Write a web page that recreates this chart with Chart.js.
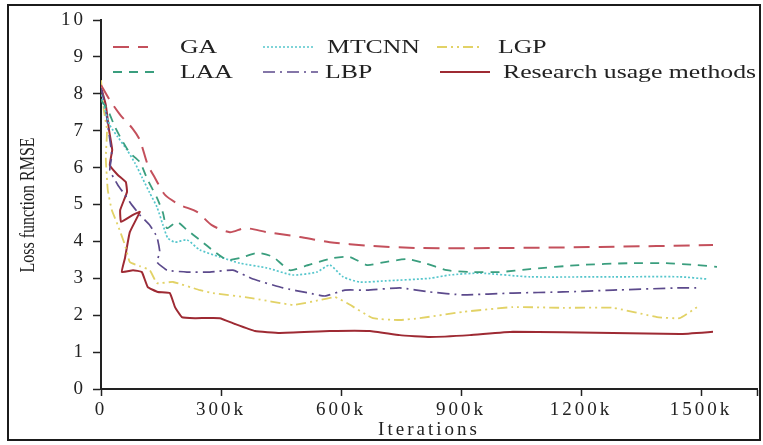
<!DOCTYPE html>
<html>
<head>
<meta charset="utf-8">
<script src="https://cdn.jsdelivr.net/npm/chart.js@4.4.1/dist/chart.umd.min.js"></script>
<style>
  html, body { margin: 0; padding: 0; background: #fff; }
  #wrap { position: relative; width: 763px; height: 445px; }
  #wrap canvas { position: absolute; left: 0; top: 0; }
  #frame { position: absolute; left: 7px; top: 4px; width: 754px; height: 437px; box-sizing: border-box; border: 2px solid #1b1b1b; pointer-events: none; }
</style>
</head>
<body>
<div id="wrap">
  <canvas id="chart" width="763" height="445"></canvas>
  <div id="frame"></div>
</div>
<script>
// ---- Data (iterations in thousands, loss RMSE)
const xTicks = [0, 300, 600, 900, 1200, 1500];
const xEnd = 1640;

const gaIter = [0, 22, 48, 78, 97, 117, 135, 160, 197, 240, 277, 322, 360, 415, 497, 572, 672, 797, 997, 1247, 1530];
const gaLoss = [8.24, 7.83, 7.43, 7.07, 6.75, 6.07, 5.72, 5.26, 4.99, 4.8, 4.44, 4.25, 4.36, 4.25, 4.12, 3.98, 3.88, 3.82, 3.82, 3.85, 3.9];

const laaIter = [0, 17, 35, 52, 72, 97, 117, 140, 155, 165, 190, 215, 247, 285, 315, 347, 392, 430, 472, 510, 580, 622, 665, 710, 765, 810, 865, 922, 997, 1072, 1197, 1322, 1410, 1490, 1540];
const laaLoss = [7.83, 7.56, 7.1, 6.75, 6.4, 6.15, 5.66, 5.18, 4.77, 4.36, 4.53, 4.31, 4.04, 3.71, 3.5, 3.55, 3.69, 3.58, 3.22, 3.33, 3.55, 3.58, 3.36, 3.44, 3.52, 3.41, 3.22, 3.17, 3.17, 3.25, 3.36, 3.41, 3.41, 3.36, 3.31];

const mtcnnIter = [0, 10, 22, 42, 65, 85, 102, 122, 140, 155, 167, 185, 215, 247, 297, 347, 415, 480, 540, 572, 605, 647, 710, 822, 872, 947, 1072, 1280, 1447, 1515];
const mtcnnLoss = [7.97, 7.56, 7.15, 6.83, 6.48, 6.12, 5.75, 5.31, 4.93, 4.44, 4.09, 3.98, 4.04, 3.77, 3.58, 3.41, 3.28, 3.09, 3.17, 3.36, 3.04, 2.9, 2.93, 3.0, 3.09, 3.14, 3.04, 3.04, 3.04, 2.98];

const lbpIter = [0, 10, 17, 27, 22, 42, 60, 77, 97, 122, 140, 147, 140, 165, 215, 272, 330, 380, 455, 520, 560, 610, 665, 747, 822, 905, 1030, 1155, 1280, 1447, 1497];
const lbpLoss = [8.16, 7.7, 7.15, 6.34, 5.93, 5.53, 5.26, 4.99, 4.72, 4.44, 4.12, 3.71, 3.44, 3.22, 3.17, 3.17, 3.22, 2.98, 2.74, 2.6, 2.52, 2.68, 2.68, 2.74, 2.63, 2.55, 2.6, 2.63, 2.68, 2.74, 2.74];

const lgpIter = [0, 7, 15, 12, 17, 27, 42, 60, 72, 97, 122, 140, 180, 247, 280, 372, 480, 547, 585, 615, 680, 747, 797, 905, 1030, 1155, 1280, 1390, 1447, 1490];
const lgpLoss = [8.37, 7.56, 7.02, 6.26, 5.39, 4.85, 4.44, 3.9, 3.44, 3.33, 3.22, 2.87, 2.9, 2.68, 2.6, 2.47, 2.28, 2.41, 2.49, 2.33, 1.92, 1.87, 1.92, 2.09, 2.22, 2.2, 2.2, 1.95, 1.92, 2.22];

const resIter = [0, 12, 20, 28, 22, 42, 62, 65, 48, 50, 80, 97, 72, 60, 52, 80, 102, 117, 142, 172, 185, 202, 235, 297, 335, 385, 447, 572, 672, 747, 822, 922, 1030, 1280, 1447, 1530];
const resLoss = [8.18, 7.7, 7.02, 6.48, 6.07, 5.8, 5.61, 5.34, 4.85, 4.53, 4.72, 4.8, 4.25, 3.55, 3.17, 3.22, 3.17, 2.76, 2.63, 2.6, 2.22, 1.95, 1.92, 1.92, 1.76, 1.57, 1.52, 1.57, 1.57, 1.46, 1.41, 1.46, 1.55, 1.52, 1.49, 1.55];

const pts = (xs, ys) => xs.map((x, i) => ({ x, y: ys[i] }));

const serif = '"Liberation Serif", "Times New Roman", serif';
const ink = '#222';

// legend spots: [line start, line end, y, text x]
const legendSpots = [
  [113, 148, 47, 180],  // GA
  [113, 157, 72, 180],  // LAA
  [263, 313, 47, 327],  // MTCNN
  [263, 318, 72, 325],  // LBP
  [437, 480, 47, 498],  // LGP
  [440, 490, 72, 503]   // Research
];

const spacing = {
  id: 'spacing',
  beforeLayout(chart) { chart.ctx.letterSpacing = '3px'; },
  beforeDraw(chart) { chart.ctx.letterSpacing = '3px'; }
};

const extras = {
  id: 'extras',
  afterDraw(chart) {
    const ctx = chart.ctx;
    chart.data.datasets.forEach((ds, i) => {
      const [x0, x1, y, tx] = legendSpots[i];
      ctx.save();
      ctx.strokeStyle = ds.borderColor;
      ctx.lineWidth = ds.borderWidth;
      ctx.setLineDash(ds.borderDash || []);
      ctx.beginPath(); ctx.moveTo(x0, y); ctx.lineTo(x1, y); ctx.stroke();
      ctx.setLineDash([]);
      ctx.letterSpacing = '0px';
      ctx.font = '19.5px ' + serif;
      ctx.fillStyle = ink;
      ctx.textBaseline = 'middle';
      ctx.translate(tx, y + 1);
      ctx.scale(1.32, 1);
      ctx.fillText(ds.label, 0, 0);
      ctx.restore();
    });
    // y axis title
    ctx.save();
    ctx.letterSpacing = '0px';
    ctx.translate(29, 205);
    ctx.rotate(-Math.PI / 2);
    ctx.scale(1, 1.3);
    ctx.font = '16px ' + serif;
    ctx.fillStyle = ink;
    ctx.textAlign = 'center';
    ctx.textBaseline = 'middle';
    ctx.fillText('Loss function RMSE', 0, 0);
    ctx.restore();
  }
};

const line = (label, xs, ys, color, dash, width, tension) => ({
  label, data: pts(xs, ys), borderColor: color, borderDash: dash, borderWidth: width,
  pointRadius: 0, tension, fill: false
});

new Chart(document.getElementById('chart'), {
  type: 'line',
  data: {
    datasets: [
      line('GA', gaIter, gaLoss, '#c4505c', [16, 9], 2, 0.25),
      line('LAA', laaIter, laaLoss, '#3a9e7e', [9, 7], 1.8, 0.2),
      line('MTCNN', mtcnnIter, mtcnnLoss, '#56c6cc', [2, 2], 1.7, 0.2),
      line('LBP', lbpIter, lbpLoss, '#5c4a8c', [12, 5, 2, 5], 1.7, 0.12),
      line('LGP', lgpIter, lgpLoss, '#e2d266', [10, 4, 2, 4, 2, 4], 1.8, 0.12),
      line('Research usage methods', resIter, resLoss, '#9e2a33', [], 2, 0.1)
    ]
  },
  options: {
    responsive: false,
    animation: false,
    devicePixelRatio: 1,
    layout: { padding: { top: 20, right: 6, bottom: 0, left: 0 } },
    plugins: { legend: { display: false }, tooltip: { enabled: false } },
    scales: {
      x: {
        type: 'linear', min: 0, max: xEnd,
        afterBuildTicks: s => { s.ticks = xTicks.concat([xEnd]).map(v => ({ value: v })); },
        afterFit: s => { s.height = 56; },
        ticks: {
          color: ink, padding: 3, maxRotation: 0, autoSkip: false,
          font: { family: serif, size: 19 },
          callback: v => xTicks.includes(v) ? (v === 0 ? '0' : v + 'k') : ''
        },
        grid: { drawOnChartArea: false, tickLength: 7, color: ink, tickWidth: 1.5 },
        border: { color: ink, width: 2 },
        title: { display: true, text: 'Iterations', color: ink, font: { family: serif, size: 19 }, padding: { top: 0, bottom: 4 } }
      },
      y: {
        min: 0, max: 10,
        afterFit: s => { s.width = 101; },
        ticks: { stepSize: 1, color: ink, padding: 7, font: { family: serif, size: 19 } },
        grid: { drawOnChartArea: false, tickLength: 8, color: ink, tickWidth: 1.5 },
        border: { color: ink, width: 2 }
      }
    }
  },
  plugins: [spacing, extras]
});
</script>
</body>
</html>
